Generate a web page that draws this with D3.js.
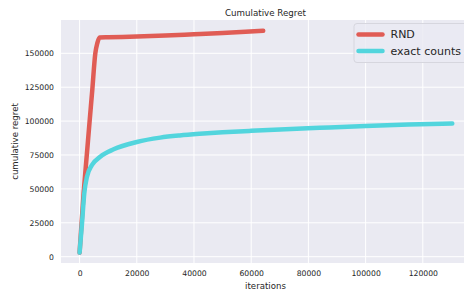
<!DOCTYPE html>
<html>
<head>
<meta charset="utf-8">
<script src="https://cdn.jsdelivr.net/npm/d3@7"></script>
<style>
  body { margin: 0; background: #fff; }
  svg { display: block; font-family: "DejaVu Sans", sans-serif; }
</style>
</head>
<body>
<script>
// data
const rndIter   = [0, 1400, 2600, 3500, 4400, 5500, 6200, 7000, 10000, 20000, 30000, 40000, 50000, 58000, 64200];
const rndRegret = [3000, 46700, 77000, 99800, 122000, 150000, 157500, 161600, 161800, 162300, 163100, 164000, 164900, 165800, 166600];

const expIter   = [0, 840, 1640, 2580, 4330, 7220, 11900, 20000, 28200, 35000, 42000, 50000, 60000, 72000, 84000, 100000, 115000, 130300];
const expRegret = [3000, 24600, 46700, 59000, 67600, 73700, 79200, 84600, 87800, 89400, 90600, 91700, 92800, 94000, 95000, 96300, 97400, 98200];

const xTicks = [0, 20000, 40000, 60000, 80000, 100000, 120000];
const yTicks = [0, 25000, 50000, 75000, 100000, 125000, 150000];

const seriesNames = ["RND", "exact counts"];
const seriesColours = ["#e05c55", "#52d5dd"];

const width = 464, height = 293;
const margin = {top: 20, right: -6, bottom: 30, left: 61};
const textCol = "#262626";

const svg = d3.select("body").append("svg")
    .attr("width", width)
    .attr("height", height);

const x = d3.scaleLinear()
    .domain([-6500, 136500])
    .range([margin.left, width - margin.right]);

const y = d3.scaleLinear()
    .domain([-4650, 174550])
    .range([height - margin.bottom, margin.top]);

// background
svg.append("rect")
    .attr("x", margin.left)
    .attr("y", margin.top)
    .attr("width", width - margin.right - margin.left)
    .attr("height", height - margin.bottom - margin.top)
    .attr("fill", "#eaeaf2");

// grid
svg.append("g")
  .selectAll("line")
  .data(xTicks)
  .join("line")
    .attr("x1", d => x(d)).attr("x2", d => x(d))
    .attr("y1", margin.top).attr("y2", height - margin.bottom)
    .attr("stroke", "#fff").attr("stroke-width", 1);

svg.append("g")
  .selectAll("line")
  .data(yTicks)
  .join("line")
    .attr("x1", margin.left).attr("x2", width - margin.right)
    .attr("y1", d => y(d)).attr("y2", d => y(d))
    .attr("stroke", "#fff").attr("stroke-width", 1);

// axes (labels only, seaborn darkgrid style)
const xAxis = svg.append("g")
    .attr("transform", `translate(0,${height - margin.bottom})`)
    .call(d3.axisBottom(x).tickValues(xTicks).tickFormat(d3.format("d")).tickSize(0).tickPadding(8));
const yAxis = svg.append("g")
    .attr("transform", `translate(${margin.left},0)`)
    .call(d3.axisLeft(y).tickValues(yTicks).tickFormat(d3.format("d")).tickSize(0).tickPadding(7));

[xAxis, yAxis].forEach(a => {
  a.select(".domain").remove();
  a.selectAll("text")
      .attr("fill", textCol)
      .style("font-size", "7.7px")
      .style("font-family", "DejaVu Sans, sans-serif");
});

// lines
const line = d3.line()
    .x(d => x(d[0]))
    .y(d => y(d[1]))
    .curve(d3.curveMonotoneX);

const series = [
  d3.zip(rndIter, rndRegret),
  d3.zip(expIter, expRegret)
];

svg.append("g")
  .selectAll("path")
  .data(series)
  .join("path")
    .attr("d", line)
    .attr("fill", "none")
    .attr("stroke", (d, i) => seriesColours[i])
    .attr("stroke-width", 4.5)
    .attr("stroke-linecap", "round")
    .attr("stroke-linejoin", "round");

// title + axis labels
svg.append("text")
    .attr("x", (margin.left + width - margin.right) / 2)
    .attr("y", 15.5)
    .attr("text-anchor", "middle")
    .attr("fill", textCol)
    .style("font-size", "8.7px")
    .text("Cumulative Regret");

svg.append("text")
    .attr("x", (margin.left + width - margin.right) / 2)
    .attr("y", 289)
    .attr("text-anchor", "middle")
    .attr("fill", textCol)
    .style("font-size", "8.6px")
    .text("iterations");

svg.append("text")
    .attr("transform", `translate(18,${(margin.top + height - margin.bottom) / 2}) rotate(-90)`)
    .attr("text-anchor", "middle")
    .attr("fill", textCol)
    .style("font-size", "8.6px")
    .text("cumulative regret");

// legend
const legend = svg.append("g").attr("transform", "translate(354,23.5)");
legend.append("rect")
    .attr("width", 115)
    .attr("height", 39)
    .attr("rx", 3)
    .attr("fill", "#eaeaf2")
    .attr("fill-opacity", 0.8)
    .attr("stroke", "#d6d6de")
    .attr("stroke-width", 1);

const items = legend.selectAll("g.item")
  .data(seriesNames)
  .join("g")
    .attr("class", "item")
    .attr("transform", (d, i) => `translate(0,${11 + i * 16.6})`);

items.append("line")
    .attr("x1", 4.5).attr("x2", 28.5)
    .attr("stroke", (d, i) => seriesColours[i])
    .attr("stroke-width", 4.5)
    .attr("stroke-linecap", "round");

items.append("text")
    .attr("x", 36.5)
    .attr("y", 0)
    .attr("dominant-baseline", "central")
    .attr("fill", textCol)
    .style("font-size", "11px")
    .text(d => d);
</script>
</body>
</html>
